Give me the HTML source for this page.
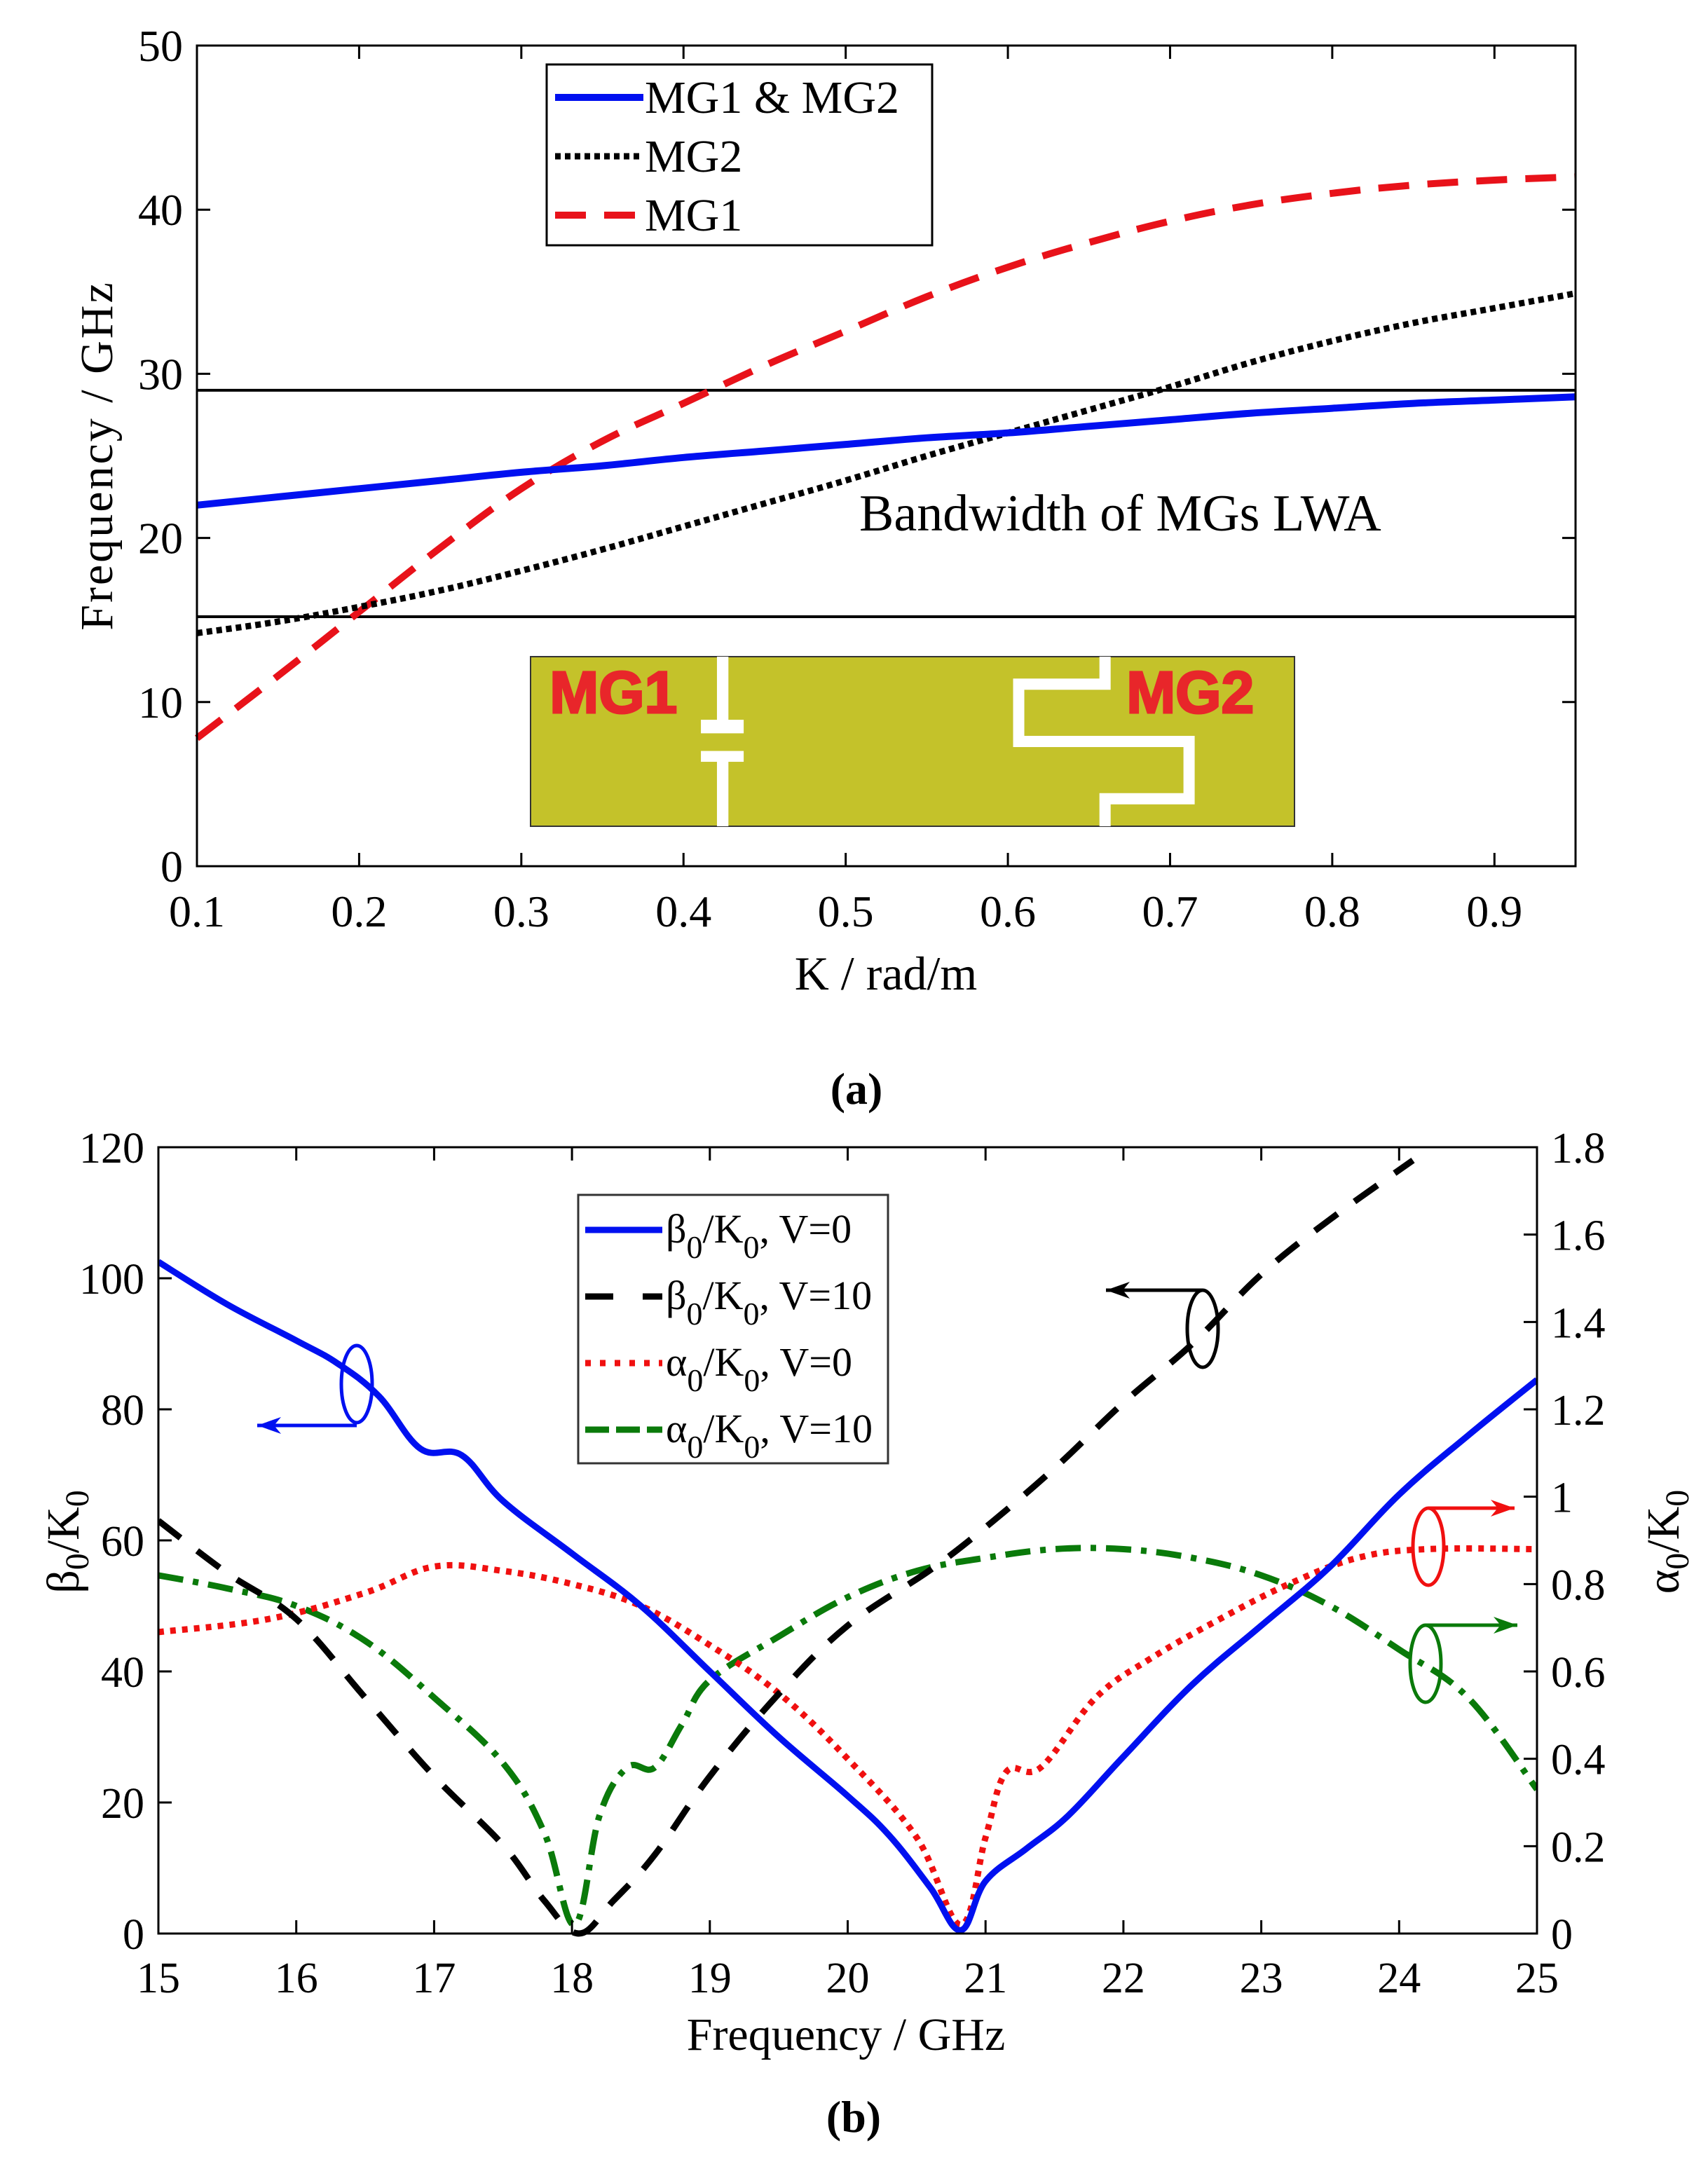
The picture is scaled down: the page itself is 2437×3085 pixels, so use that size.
<!DOCTYPE html>
<html><head><meta charset="utf-8"><style>
html,body{margin:0;padding:0;background:#fff}
svg text{font-family:"Liberation Serif",serif;fill:#000}
</style></head><body>
<svg id="fig" xmlns="http://www.w3.org/2000/svg" width="2437" height="3080" viewBox="0 0 2437 3080">
<rect width="2437" height="3080" fill="#fff"/>
<g id="chartA"></g>
<g id="chartB"></g>
</svg>
<script>
// ---- Chart A data ----
const aTicksX = [0.1,0.2,0.3,0.4,0.5,0.6,0.7,0.8,0.9];
const aTicksY = [0,10,20,30,40,50];
const aK = [0.1,0.15,0.2,0.25,0.3,0.35,0.4,0.45,0.5,0.55,0.6,0.65,0.7,0.75,0.8,0.85,0.9,0.95];
const aMG12 = [22,22.5,23,23.5,24,24.4,24.9,25.3,25.7,26.1,26.4,26.8,27.2,27.6,27.9,28.2,28.4,28.6];
const aMG2 = [14.2,14.9,15.8,16.8,18,19.3,20.7,22.1,23.5,25,26.4,27.8,29.2,30.7,32,33.1,34,34.9];
const aMG1 = [7.8,11.6,15.5,19.4,23,25.9,28.2,30.5,32.6,34.7,36.5,38,39.3,40.3,41,41.5,41.8,42];
const aBand = [15.2,29];
// ---- Chart B data ----
const bTicksX = [15,16,17,18,19,20,21,22,23,24,25];
const bTicksL = [0,20,40,60,80,100,120];
const bTicksR = [0,0.2,0.4,0.6,0.8,1,1.2,1.4,1.6,1.8];
const bTickRLabels = ["0","0.2","0.4","0.6","0.8","1","1.2","1.4","1.6","1.8"];
const bBeta0F = [15,15.5,16,16.3,16.6,16.9,17.2,17.5,18,18.5,19,19.5,20,20.3,20.6,20.82,21,21.3,21.6,22,22.5,23,23.5,24,24.5,25];
const bBeta0 = [102.5,96,90.5,87,82,74,73,66,58,50,40,30,21,15,7,0.5,8,13,18,27,38,47,56,67,76,84.5];
const bBeta10F = [15,15.5,16,16.5,17,17.5,17.8,18.05,18.3,18.6,19,19.5,20,20.6,21,21.5,22,22.5,23,23.5,24.1];
const bBeta10 = [63,55,48,36,24,13.5,5,0,5,12,24,36.6,47,55.5,62,71,81,90,100.6,109,118];
const bAlpha0F = [15,15.8,16.5,17,17.5,18,18.5,19,19.5,20,20.5,20.82,21,21.15,21.4,21.8,22.2,22.7,23.2,23.7,24.2,25];
const bAlpha0 = [0.69,0.72,0.78,0.84,0.83,0.80,0.75,0.66,0.55,0.40,0.22,0.02,0.22,0.37,0.38,0.54,0.63,0.72,0.80,0.86,0.88,0.88];
const bAlpha10F = [15,15.5,16,16.5,17,17.5,17.8,18.02,18.2,18.4,18.6,18.8,19,19.5,20,20.5,21,21.5,22,22.5,23,23.5,24,24.5,25];
const bAlpha10 = [0.82,0.79,0.75,0.67,0.54,0.39,0.23,0.02,0.27,0.38,0.38,0.48,0.58,0.68,0.77,0.83,0.86,0.88,0.88,0.86,0.82,0.75,0.65,0.54,0.33];

const NS="http://www.w3.org/2000/svg";
function mk(parent,tag,attrs,text){const e=document.createElementNS(NS,tag);for(const k in attrs)e.setAttribute(k,attrs[k]);if(text!==undefined)e.textContent=text;parent.appendChild(e);return e;}
// smooth Catmull-Rom path
function pathD(xs,ys,fx,fy){
  const p=xs.map((x,i)=>[fx(x),fy(ys[i])]);
  let d='M'+p[0][0].toFixed(1)+' '+p[0][1].toFixed(1);
  for(let i=0;i<p.length-1;i++){
    const p0=p[i-1]||p[i],p1=p[i],p2=p[i+1],p3=p[i+2]||p[i+1];
    const t=0.18;
    const c1=[p1[0]+(p2[0]-p0[0])*t,p1[1]+(p2[1]-p0[1])*t];
    const c2=[p2[0]-(p3[0]-p1[0])*t,p2[1]-(p3[1]-p1[1])*t];
    d+=` C${c1[0].toFixed(1)} ${c1[1].toFixed(1)} ${c2[0].toFixed(1)} ${c2[1].toFixed(1)} ${p2[0].toFixed(1)} ${p2[1].toFixed(1)}`;
  }
  return d;
}

// ===== Chart A =====
(function(){
const g=document.getElementById('chartA');
const L=281,R=2248,T=65,B=1236;
const fx=v=>L+(v-0.1)/0.85*(R-L);
const fy=v=>B-v/50*(B-T);
aBand.forEach(v=>{const l=mk(g,'line',{x1:L,x2:R,y1:fy(v),y2:fy(v),stroke:'#000','stroke-width':4});

});
const ix=757,iy=937,iw=1090,ih=242;
const ins=mk(g,'g',{});


mk(ins,'rect',{x:ix,y:iy,width:iw,height:ih,fill:'#c4c22a',stroke:'#333','stroke-width':2});
const X=f=>ix+f*iw,Y=f=>iy+f*ih;
mk(ins,'rect',{x:X(0.244),y:iy,width:X(0.259)-X(0.244),height:Y(0.40)-iy,fill:'#fff'});
mk(ins,'rect',{x:X(0.223),y:Y(0.372),width:X(0.279)-X(0.223),height:Y(0.452)-Y(0.372),fill:'#fff'});
mk(ins,'rect',{x:X(0.223),y:Y(0.556),width:X(0.279)-X(0.223),height:Y(0.62)-Y(0.556),fill:'#fff'});
mk(ins,'rect',{x:X(0.244),y:Y(0.6),width:X(0.259)-X(0.244),height:iy+ih-Y(0.6),fill:'#fff'});
mk(ins,'polyline',{points:`${X(0.752)},${iy} ${X(0.752)},${Y(0.162)} ${X(0.639)},${Y(0.162)} ${X(0.639)},${Y(0.5)} ${X(0.862)},${Y(0.5)} ${X(0.862)},${Y(0.838)} ${X(0.752)},${Y(0.838)} ${X(0.752)},${iy+ih}`,fill:'none',stroke:'#fff','stroke-width':16});
mk(ins,'text',{x:X(0.025),y:Y(0.33),'font-size':84,'font-weight':'bold',stroke:'#e8262a','stroke-width':3,style:'font-family:"Liberation Sans",sans-serif;fill:#e8262a'},'MG1');
mk(ins,'text',{x:X(0.78),y:Y(0.33),'font-size':84,'font-weight':'bold',stroke:'#e8262a','stroke-width':3,style:'font-family:"Liberation Sans",sans-serif;fill:#e8262a'},'MG2');
const s1=mk(g,'path',{d:pathD(aK,aMG1,fx,fy),fill:'none',stroke:'#e8121a','stroke-width':10,'stroke-dasharray':'44 26'});


const s2=mk(g,'path',{d:pathD(aK,aMG2,fx,fy),fill:'none',stroke:'#000','stroke-width':9,'stroke-dasharray':'8 6'});


const s3=mk(g,'path',{d:pathD(aK,aMG12,fx,fy),fill:'none',stroke:'#0010f0','stroke-width':10});


mk(g,'rect',{x:L,y:T,width:R-L,height:B-T,fill:'none',stroke:'#000','stroke-width':3});
aTicksX.forEach(v=>{const x=fx(v);mk(g,'line',{x1:x,x2:x,y1:B,y2:B-19,stroke:'#000','stroke-width':3});mk(g,'line',{x1:x,x2:x,y1:T,y2:T+19,stroke:'#000','stroke-width':3});
const t=mk(g,'text',{x:x,y:B+86,'font-size':64,'text-anchor':'middle'},v.toFixed(1));

});
aTicksY.forEach(v=>{const y=fy(v);mk(g,'line',{x1:L,x2:L+19,y1:y,y2:y,stroke:'#000','stroke-width':3});mk(g,'line',{x1:R,x2:R-19,y1:y,y2:y,stroke:'#000','stroke-width':3});
const t=mk(g,'text',{x:L-20,y:y+22,'font-size':64,'text-anchor':'end'},String(v));

});
const xl=mk(g,'text',{x:1264,y:1412,'font-size':68,'text-anchor':'middle'},'K / rad/m');


const yl=mk(g,'text',{x:0,y:0,'font-size':66,'letter-spacing':3,'text-anchor':'middle',transform:'translate(160,650) rotate(-90)'},'Frequency / GHz');


const bt=mk(g,'text',{x:1226,y:757,'font-size':74},'Bandwidth of MGs LWA');


const lg=mk(g,'g',{});


mk(lg,'rect',{x:780,y:92,width:550,height:258,fill:'#fff',stroke:'#000','stroke-width':3});
const rows=[['MG1 & MG2','#0010f0',null,10],['MG2','#000','8 6',9],['MG1','#e8121a','44 26',10]];
rows.forEach((r,i)=>{const y=139+i*84;
const ln=mk(lg,'line',{x1:792,x2:918,y1:y,y2:y,stroke:r[1],'stroke-width':r[3]});if(r[2])ln.setAttribute('stroke-dasharray',r[2]);
const t=mk(lg,'text',{x:920,y:y+22,'font-size':66},r[0]);

});
const ca=mk(g,'text',{x:1222,y:1575,'font-size':64,'font-weight':'bold','text-anchor':'middle'},'(a)');


})();

// ===== Chart B =====
(function(){
const g=document.getElementById('chartB');
const L=226,R=2193,T=1637,B=2759;
const fx=v=>L+(v-15)/10*(R-L);
const fy=v=>B-v/120*(B-T);
const fr=v=>B-v/1.8*(B-T);
const clip=mk(g,'clipPath',{id:'cb'});mk(clip,'rect',{x:L,y:T-5,width:R-L,height:B-T+10});
const sg=mk(g,'g',{'clip-path':'url(#cb)'});
const a10=mk(sg,'path',{d:pathD(bAlpha10F,bAlpha10,fx,fr),fill:'none',stroke:'#0a7a0a','stroke-width':9,'stroke-dasharray':'36 14 8 14'});


const a0=mk(sg,'path',{d:pathD(bAlpha0F,bAlpha0,fx,fr),fill:'none',stroke:'#f01010','stroke-width':9,'stroke-dasharray':'8 9'});


const b10=mk(sg,'path',{d:pathD(bBeta10F,bBeta10,fx,fy),fill:'none',stroke:'#000','stroke-width':9,'stroke-dasharray':'40 30'});


const b0=mk(sg,'path',{d:pathD(bBeta0F,bBeta0,fx,fy),fill:'none',stroke:'#0010f0','stroke-width':9});


mk(g,'rect',{x:L,y:T,width:R-L,height:B-T,fill:'none',stroke:'#000','stroke-width':3});
bTicksX.forEach(v=>{const x=fx(v);mk(g,'line',{x1:x,x2:x,y1:B,y2:B-19,stroke:'#000','stroke-width':3});mk(g,'line',{x1:x,x2:x,y1:T,y2:T+19,stroke:'#000','stroke-width':3});
const t=mk(g,'text',{x:x,y:B+84,'font-size':62,'text-anchor':'middle'},String(v));

});
bTicksL.forEach(v=>{const y=fy(v);mk(g,'line',{x1:L,x2:L+19,y1:y,y2:y,stroke:'#000','stroke-width':3});
const t=mk(g,'text',{x:L-20,y:y+22,'font-size':62,'text-anchor':'end'},String(v));

});
bTicksR.forEach((v,i)=>{const y=fr(v);mk(g,'line',{x1:R,x2:R-19,y1:y,y2:y,stroke:'#000','stroke-width':3});
const t=mk(g,'text',{x:R+20,y:y+22,'font-size':62},bTickRLabels[i]);

});
const xl=mk(g,'text',{x:1207,y:2925,'font-size':66,'text-anchor':'middle'},'Frequency / GHz');


const yl=mk(g,'text',{x:0,y:0,'font-size':66,'text-anchor':'middle',transform:'translate(112,2200) rotate(-90)'});


yl.innerHTML='β<tspan dy="14" font-size="48">0</tspan><tspan dy="-14">/K</tspan><tspan dy="14" font-size="48">0</tspan>';
const yr=mk(g,'text',{x:0,y:0,'font-size':66,'text-anchor':'middle',transform:'translate(2395,2200) rotate(-90)'});


yr.innerHTML='α<tspan dy="14" font-size="48">0</tspan><tspan dy="-14">/K</tspan><tspan dy="14" font-size="48">0</tspan>';
const ann=[['#0010f0',509,1975,509,2034,367],['#000',1716,1896,1716,1841,1578],['#f01010',2038,2207,2038,2152,2161],['#0a7a0a',2034,2374,2034,2319,2165]];
ann.forEach(a=>{const ag=mk(g,'g',{});


mk(ag,'ellipse',{cx:a[1],cy:a[2],rx:22,ry:55,fill:'none',stroke:a[0],'stroke-width':5});
mk(ag,'line',{x1:a[3],y1:a[4],x2:a[5],y2:a[4],stroke:a[0],'stroke-width':5});
const d=a[5]<a[3]?1:-1;
mk(ag,'path',{d:`M${a[5]} ${a[4]} L${a[5]+d*34} ${a[4]-12} L${a[5]+d*24} ${a[4]} L${a[5]+d*34} ${a[4]+12}Z`,fill:a[0]});});
const lg=mk(g,'g',{});


mk(lg,'rect',{x:825,y:1705,width:442,height:383,fill:'#fff',stroke:'#333','stroke-width':3});
const rows=[['β','V=0','#0010f0',null],['β','V=10','#000','40 42'],['α','V=0','#f01010','8 13'],['α','V=10','#0a7a0a','34 10']];
rows.forEach((r,i)=>{const y=1755+i*95;
const ln=mk(lg,'line',{x1:835,x2:945,y1:y,y2:y,stroke:r[2],'stroke-width':9});if(r[3])ln.setAttribute('stroke-dasharray',r[3]);
const t=mk(lg,'text',{x:950,y:y+18,'font-size':58});


t.innerHTML=r[0]+'<tspan dy="22" font-size="46">0</tspan><tspan dy="-22">/K</tspan><tspan dy="22" font-size="46">0</tspan><tspan dy="-22">, '+r[1]+'</tspan>';});
const cb=mk(g,'text',{x:1218,y:3042,'font-size':64,'font-weight':'bold','text-anchor':'middle'},'(b)');


})();
</script>
</body></html>
